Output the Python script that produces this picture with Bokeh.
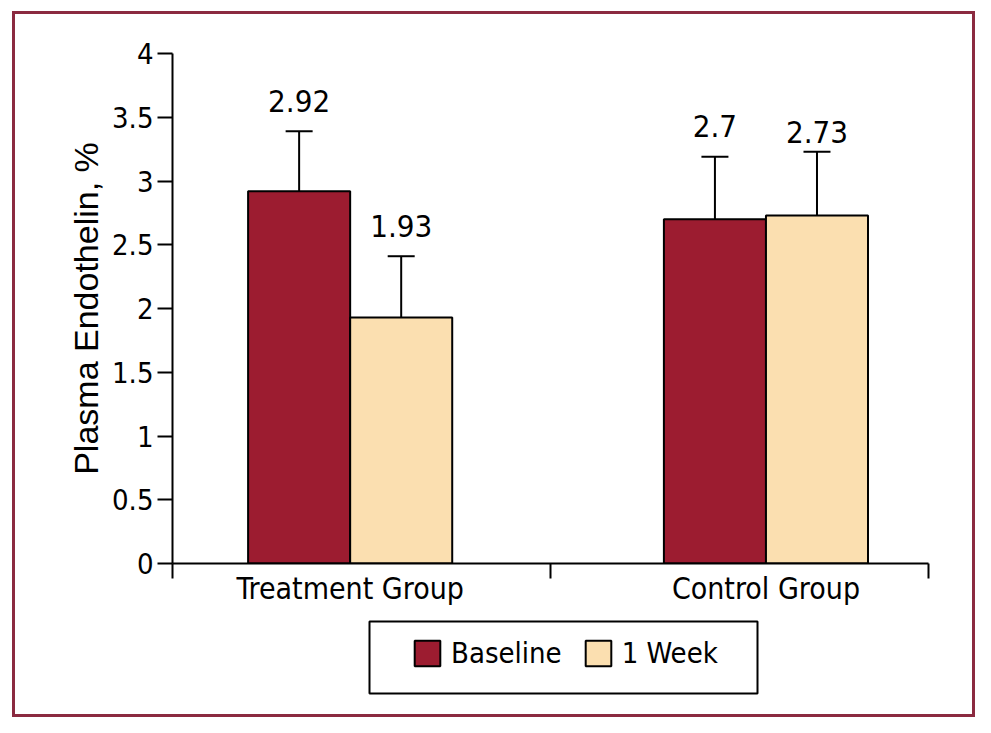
from bokeh.plotting import figure
from bokeh.layouts import column
from bokeh.models import (FixedTicker, ColumnDataSource, Whisker, TeeHead, Legend,
                          LegendItem, Range1d)
from bokeh.embed import file_html
from bokeh.resources import INLINE
from bokeh.core.properties import value

# ---- data ----
groups = ["Treatment Group", "Control Group"]
series = ["Baseline", "1 Week"]
baseline = [2.92, 2.70]
week1 = [1.93, 2.73]
baseline_upper = [3.39, 3.19]
baseline_lower = [2.31, 2.41]
week1_upper = [2.41, 3.23]
week1_lower = [1.47, 2.26]
y_ticks = [0, 0.5, 1, 1.5, 2, 2.5, 3, 3.5, 4]
y_tick_labels = ["0", "0.5", "1", "1.5", "2", "2.5", "3", "3.5", "4"]

# ---- layout / style constants ----
group_pos = [0.47, 1.57]
group_bounds = [0, 1, 2]
bar_w = 0.27
label_gap = {"Baseline": [18, 19], "1 Week": [18, 8]}
colors = {"Baseline": "#9c1c30", "1 Week": "#fbdfb0"}
FRAME = "#8b2a40"
NARROW = "DejaVu Sans Condensed"
REG = "Liberation Sans"

W, H = 975, 717
H1 = 615           # main chart height
H2 = H - H1        # legend strip height

p = figure(width=W, height=H1, x_range=Range1d(0, 2), y_range=Range1d(0, 4),
           output_backend="svg", toolbar_location=None,
           min_border_left=172, min_border_right=W - 928, min_border_top=53,
           min_border_bottom=H1 - 563)
p.frame_align = False
p.xgrid.visible = False
p.ygrid.visible = False
p.outline_line_color = None
p.background_fill_color = None
p.border_fill_color = None

renderers = {}
for name, vals, up, lo, sign in [("Baseline", baseline, baseline_upper, baseline_lower, -1),
                                  ("1 Week", week1, week1_upper, week1_lower, 1)]:
    src = ColumnDataSource(dict(
        x=[gp + sign * bar_w / 2 for gp in group_pos],
        top=vals, upper=up, lower=lo,
        label=[f"{v:g}" for v in vals],
        yoff=[-(gap + 12) for gap in label_gap[name]],
    ))
    r = p.vbar(x="x", top="top", width=bar_w, bottom=0, source=src,
               fill_color=colors[name], line_color="black", line_width=2)
    renderers[name] = r
    w = Whisker(source=src, base="x", upper="upper", lower="lower",
                line_color="black", line_width=2,
                upper_head=TeeHead(size=27, line_width=2, line_color="black"),
                lower_head=TeeHead(size=27, line_width=2, line_color="black"))
    p.add_layout(w)
    p.text(x="x", y="upper", text="label", source=src, y_offset="yoff",
           text_align="center", text_baseline="alphabetic",
           text_font=value(NARROW), text_font_size="31px", text_color="black")

# y axis
ya = p.yaxis[0]
ya.ticker = FixedTicker(ticks=y_ticks)
ya.major_label_overrides = dict(zip(y_ticks, y_tick_labels))
ya.major_tick_out = 15
ya.major_tick_in = 0
ya.major_tick_line_width = 2
ya.minor_tick_line_color = None
ya.axis_line_width = 2
ya.major_label_standoff = 4
ya.major_label_text_font = NARROW
ya.major_label_text_font_size = "29px"
ya.major_label_text_color = "black"
ya.axis_label = "Plasma Endothelin, %"
ya.axis_label_text_font = REG
ya.axis_label_text_font_size = "34px"
ya.axis_label_text_font_style = "normal"
ya.axis_label_text_color = "black"
ya.axis_label_standoff = 4

# x axis
xa = p.xaxis[0]
xa.ticker = FixedTicker(ticks=group_pos, minor_ticks=group_bounds)
xa.major_label_overrides = dict(zip(group_pos, groups))
xa.major_tick_out = 0
xa.major_tick_in = 0
xa.major_tick_line_color = None
xa.minor_tick_out = 15
xa.minor_tick_in = 0
xa.minor_tick_line_width = 2
xa.minor_tick_line_color = "black"
xa.axis_line_width = 2
xa.major_label_standoff = -8
xa.major_label_text_font = NARROW
xa.major_label_text_font_size = "30px"
xa.major_label_text_color = "black"

# ---- legend strip: its frame is the legend box ----
box_top, box_bottom = 621 - H1, 693 - H1
p2 = figure(width=W, height=H2, x_range=Range1d(0, 1), y_range=Range1d(1, 2),
            output_backend="svg", toolbar_location=None,
            x_axis_location=None, y_axis_location=None,
            min_border_left=369, min_border_right=W - 757,
            min_border_top=box_top, min_border_bottom=H2 - box_bottom)
p2.frame_align = False
p2.xgrid.visible = False
p2.ygrid.visible = False
p2.outline_line_color = "black"
p2.outline_line_width = 2
p2.background_fill_color = None
p2.border_fill_color = None
# legend-key renderers (their only point lies outside the strip's ranges)
leg_renderers = []
for s in series:
    leg_renderers.append(p2.vbar(x=[-5], top=[-5], bottom=-6, width=0.1,
                                 fill_color=colors[s], line_color="black", line_width=2))
legend = Legend(items=[LegendItem(label=s, renderers=[r]) for s, r in zip(series, leg_renderers)],
                orientation="horizontal", location=(42, 23), padding=0, margin=0,
                spacing=20, label_standoff=8, glyph_width=32, glyph_height=32,
                label_text_font=NARROW, label_text_font_size="29px",
                label_text_color="black",
                border_line_alpha=0, background_fill_alpha=0)
p2.add_layout(legend)

g = f"linear-gradient({FRAME},{FRAME})"
layout = column(p, p2, spacing=0, styles={
    "background": (f"{g} 12px 11px / 963px 3px no-repeat, "
                   f"{g} 12px 714px / 963px 3px no-repeat, "
                   f"{g} 12px 11px / 3px 706px no-repeat, "
                   f"{g} 972px 11px / 3px 706px no-repeat, white")
})

open("out.html", "w").write(file_html(layout, INLINE))
